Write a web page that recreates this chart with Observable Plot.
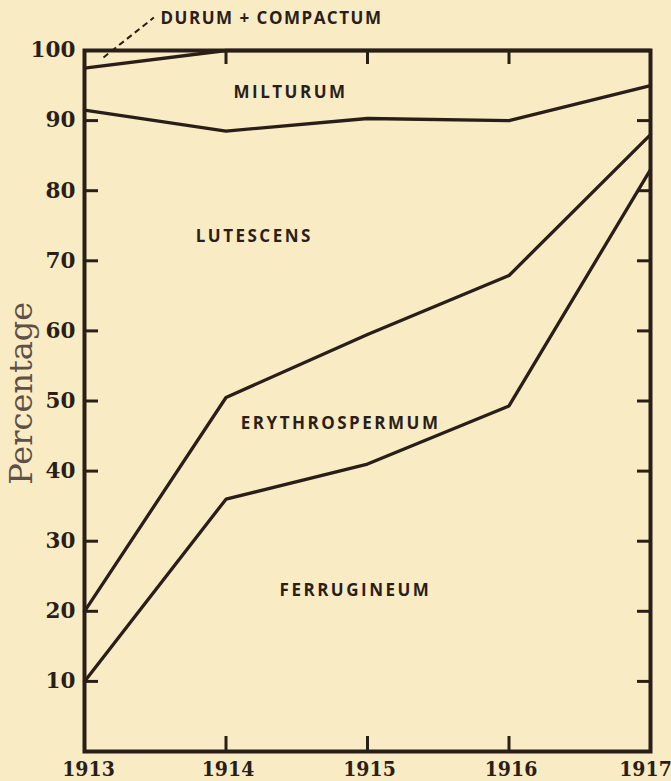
<!DOCTYPE html>
<html>
<head>
<meta charset="utf-8">
<script src="https://cdn.jsdelivr.net/npm/d3@7"></script>
<script src="https://cdn.jsdelivr.net/npm/@observablehq/plot@0.6"></script>
<style>
  html, body { margin: 0; padding: 0; background: #f9ebc4; }
  #chart svg { display: block; }
</style>
</head>
<body>
<div id="chart"></div>
<script>
// Years of observation
const years = [1913, 1914, 1915, 1916, 1917];

// Share (%) of each variety per year, stacked bottom to top
const ferrugineum    = [10, 36, 41, 49.3, 83];
const erythrospermum = [10, 14.5, 18.5, 18.6, 5];
const lutescens      = [71.5, 38, 30.8, 22.1, 7];
const milturum       = [6, 11.5, 9.7, 10, 5];
const durumCompactum = [2.5, 0, 0, 0, 0];

const varieties = ["Ferrugineum", "Erythrospermum", "Lutescens", "Milturum", "Durum + Compactum"];
const shares = [ferrugineum, erythrospermum, lutescens, milturum, durumCompactum];

// Tick labels
const yTicks = [10, 20, 30, 40, 50, 60, 70, 80, 90, 100];
const innerYTicks = [10, 20, 30, 40, 50, 60, 70, 80, 90];
const innerXTicks = [1914, 1915, 1916];
const yLabel = [{text: "Percentage", year: 1912.555, pct: 51.1}];

// Area labels (position in data units: year, percentage)
const areaLabels = [
  {text: "MILTURUM", year: 1914.456, pct: 94.0},
  {text: "LUTESCENS", year: 1914.20, pct: 73.5},
  {text: "ERYTHROSPERMUM", year: 1914.81, pct: 46.8},
  {text: "FERRUGINEUM", year: 1914.915, pct: 23.0}
];
const durumLabel = [{text: "DURUM + COMPACTUM", year: 1913.537, pct: 104.6}];
const durumLeader = [{year1: 1913.134, pct1: 99.0, year2: 1913.49, pct2: 104.7}];

// Build cumulative boundary table
const rows = [];
years.forEach((yr, i) => {
  let cum = 0;
  shares.forEach((s, k) => {
    cum += s[i];
    rows.push({year: yr, top: cum, variety: varieties[k]});
  });
});

const ink = "#2a1e19";
const W = 671, H = 781;
const mL = 84, mR = 21, mT = 50, mB = 30;
const frameW = W - mL - mR;
const frameH = H - mT - mB;

const yearAxis = (ticks, dx) => Plot.axisX({
  ticks, tickSize: 0, tickPadding: 10, label: null, dx,
  fontFamily: "DejaVu Serif Condensed", fontWeight: "bold", fontSize: 21, fill: ink,
  tickFormat: d => String(d)
});

const chart = Plot.plot({
  width: W,
  height: H,
  marginLeft: mL,
  marginRight: mR,
  marginTop: mT,
  marginBottom: mB,
  style: {background: "#f9ebc4", color: ink, overflow: "visible"},
  x: {domain: [1913, 1917]},
  y: {domain: [0, 100]},
  marks: [
    // data boundaries
    Plot.line(rows.filter(d => d.variety !== "Durum + Compactum"), {
      x: "year", y: "top", z: "variety",
      stroke: ink, strokeWidth: 3.3, strokeLinejoin: "miter"
    }),
    // inner ticks left / right
    Plot.tickY(innerYTicks, {y: d => d, stroke: ink, strokeWidth: 3, insetRight: frameW - 14}),
    Plot.tickY(innerYTicks, {y: d => d, stroke: ink, strokeWidth: 3, insetLeft: frameW - 13}),
    // inner ticks top / bottom
    Plot.tickX(innerXTicks, {x: d => d, stroke: ink, strokeWidth: 3, insetBottom: frameH - 14}),
    Plot.tickX(innerXTicks, {x: d => d, stroke: ink, strokeWidth: 3, insetTop: frameH - 15}),
    Plot.frame({stroke: ink, strokeWidth: 4}),
    // axes labels
    Plot.axisY({
      ticks: yTicks, tickSize: 0, tickPadding: 9, label: null,
      fontFamily: "DejaVu Serif", fontWeight: "bold", fontSize: 21.5, fill: ink,
      tickFormat: d => String(d)
    }),
    yearAxis([1913], 4),
    yearAxis([1914, 1915, 1916], 2),
    yearAxis([1917], -5),
    Plot.text(yLabel, {
      x: "year", y: "pct", text: "text", rotate: -90,
      fontFamily: "DejaVu Serif", fontSize: 32, fill: "#5e4f47"
    }),
    // area labels
    Plot.text(areaLabels, {
      x: "year", y: "pct", text: "text",
      fontFamily: "Open Sans", fontWeight: 700, fontSize: 17,
      fill: ink
    }),
    Plot.link(durumLeader, {
      x1: "year1", y1: "pct1", x2: "year2", y2: "pct2",
      stroke: ink, strokeWidth: 2, strokeDasharray: "6,4"
    }),
    Plot.text(durumLabel, {
      x: "year", y: "pct", text: "text", textAnchor: "start",
      fontFamily: "Open Sans", fontWeight: 700, fontSize: 17,
      fill: ink
    })
  ]
});

// letter spacing for area labels
chart.querySelectorAll("text").forEach(t => {
  const s = t.textContent;
  if (/^[A-Z +]+$/.test(s) && s.length > 4) t.setAttribute("letter-spacing", s.startsWith("DURUM") ? "1.5" : "2.5");
});

document.getElementById("chart").appendChild(chart);
</script>
</body>
</html>
